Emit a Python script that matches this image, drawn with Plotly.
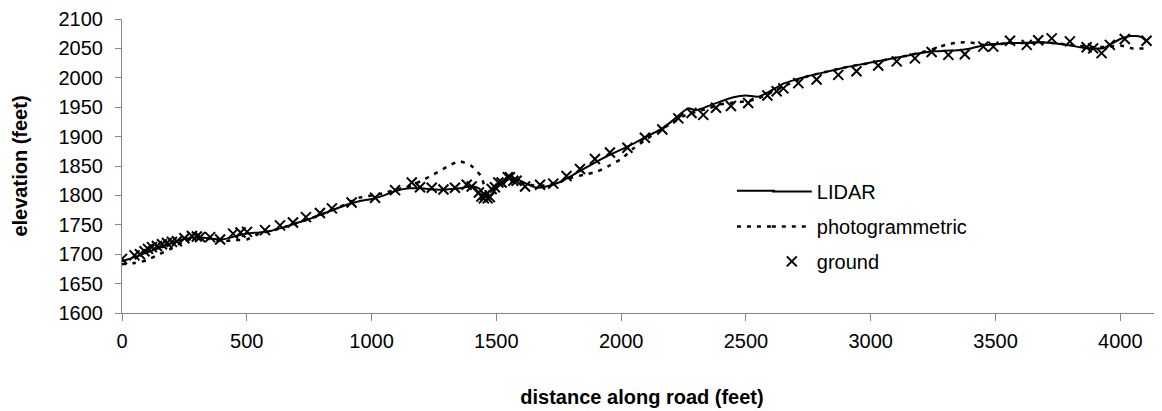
import plotly.graph_objects as go

# ---------------- data ----------------
lidar_x = [0, 50, 100, 150, 200, 250, 300, 350, 400, 450, 500, 550, 600, 650, 700, 750, 800, 850,
           900, 950, 1000, 1050, 1100, 1150, 1200, 1250, 1300, 1350, 1400, 1430, 1460, 1480, 1500,
           1550, 1580, 1620, 1660, 1700, 1750, 1800, 1850, 1900, 1950, 2000, 2050, 2100, 2150, 2200,
           2250, 2270, 2300, 2350, 2400, 2450, 2500, 2550, 2600, 2650, 2700, 2750, 2800, 2850, 2900,
           2950, 3000, 3050, 3100, 3150, 3200, 3250, 3300, 3350, 3400, 3450, 3500, 3550, 3600, 3650,
           3700, 3750, 3800, 3850, 3900, 3930, 3960, 4000, 4040, 4080, 4105]
lidar_y = [1688, 1695, 1703, 1711, 1719, 1726, 1729, 1727, 1725, 1730, 1735, 1737, 1740, 1746, 1753,
           1760, 1768, 1776, 1784, 1790, 1794, 1800, 1808, 1812, 1812, 1810, 1810, 1812, 1815, 1812,
           1798, 1802, 1812, 1828, 1828, 1820, 1813, 1815, 1822, 1833, 1845, 1857, 1868, 1878, 1888,
           1900, 1910, 1925, 1943, 1948, 1945, 1952, 1960, 1967, 1970, 1968, 1978, 1990, 1997, 2003,
           2008, 2013, 2018, 2022, 2026, 2030, 2034, 2038, 2042, 2045, 2046, 2047, 2050, 2055, 2057,
           2059, 2059, 2060, 2060, 2058, 2055, 2051, 2050, 2050, 2057, 2066, 2071, 2070, 2062]

photo_x = [0, 50, 100, 150, 200, 250, 300, 350, 400, 450, 500, 550, 600, 650, 700, 750, 800, 850,
           900, 950, 1000, 1050, 1100, 1150, 1200, 1250, 1300, 1350, 1400, 1440, 1460, 1480, 1500,
           1550, 1600, 1650, 1700, 1750, 1800, 1850, 1900, 1950, 2000, 2050, 2100, 2150, 2200, 2250,
           2300, 2350, 2400, 2450, 2500, 2550, 2600, 2650, 2700, 2750, 2800, 2850, 2900, 2950, 3000,
           3050, 3100, 3150, 3200, 3250, 3300, 3350, 3400, 3450, 3500, 3600, 3700, 3800, 3900, 3950,
           4000, 4050, 4100]
photo_y = [1683, 1685, 1690, 1700, 1710, 1722, 1728, 1726, 1722, 1724, 1725, 1735, 1740, 1746, 1753,
           1760, 1768, 1776, 1786, 1796, 1800, 1804, 1810, 1815, 1825, 1836, 1848, 1858, 1850, 1832,
           1805, 1808, 1815, 1824, 1822, 1817, 1817, 1822, 1830, 1835, 1840, 1850, 1862, 1880, 1895,
           1910, 1922, 1935, 1942, 1948, 1955, 1958, 1960, 1965, 1975, 1985, 1995, 2003, 2008, 2013,
           2018, 2022, 2025, 2030, 2034, 2038, 2043, 2049, 2056, 2060, 2060, 2056, 2057, 2059, 2060,
           2056, 2052, 2053, 2055, 2050, 2050]

ground_x = [0, 50, 72, 90, 104, 120, 140, 160, 180, 200, 220, 250, 280, 300, 313, 353, 393, 445, 475,
            501, 573, 633, 685, 737, 793, 841, 920, 1014, 1094, 1161, 1194, 1241, 1288, 1334, 1381,
            1401, 1430, 1440, 1450, 1455, 1465, 1474, 1481, 1494, 1508, 1521, 1546, 1554, 1568, 1581,
            1615, 1675, 1728, 1781, 1835, 1895, 1955, 2025, 2095, 2165, 2229, 2282, 2329, 2380, 2440,
            2509, 2586, 2623, 2650, 2710, 2783, 2870, 2943, 3030, 3104, 3177, 3244, 3311, 3377, 3451,
            3491, 3558, 3625, 3671, 3725, 3798, 3865, 3891, 3925, 3958, 4018, 4105]
ground_y = [1692, 1698, 1700, 1705, 1709, 1712, 1714, 1717, 1719, 1721, 1722, 1727, 1731, 1730, 1729,
            1729, 1725, 1735, 1737, 1738, 1741, 1749, 1754, 1763, 1770, 1778, 1788, 1796, 1809, 1822,
            1814, 1813, 1810, 1813, 1818, 1815, 1805, 1798, 1795, 1800, 1795, 1797, 1811, 1814, 1822,
            1822, 1831, 1831, 1825, 1825, 1815, 1818, 1820, 1833, 1845, 1862, 1873, 1881, 1898, 1912,
            1931, 1940, 1937, 1949, 1952, 1957, 1970, 1977, 1982, 1991, 1997, 2005, 2011, 2021, 2028,
            2033, 2044, 2039, 2040, 2053, 2053, 2063, 2056, 2064, 2067, 2062, 2052, 2050, 2042, 2056,
            2066, 2063]

x_ticks = [0, 500, 1000, 1500, 2000, 2500, 3000, 3500, 4000]
y_ticks = [1600, 1650, 1700, 1750, 1800, 1850, 1900, 1950, 2000, 2050, 2100]

FONT = "Liberation Sans, Arial, sans-serif"
AXIS_COLOR = "#868686"

fig = go.Figure()
fig.add_trace(go.Scatter(x=lidar_x, y=lidar_y, mode="lines", name="LIDAR",
                         line=dict(color="black", width=2, shape="spline", smoothing=0.6),
                         legendgroup="a"))
fig.add_trace(go.Scatter(x=photo_x, y=photo_y, mode="lines", name="photogrammetric",
                         line=dict(color="black", width=2.5, dash="4px,6px", shape="spline", smoothing=0.6),
                         legendgroup="b"))
fig.add_trace(go.Scatter(x=ground_x, y=ground_y, mode="markers", name="ground",
                         marker=dict(symbol="x-thin", size=10, color="black",
                                     line=dict(color="black", width=2)),
                         legendgroup="c"))

# lengthen the legend key lines (reference keys are longer than plotly's default)
fig.add_shape(type="line", xref="paper", yref="paper", x0=0.5913, x1=0.6280, y0=0.4155, y1=0.4155,
              line=dict(color="black", width=2))
fig.add_shape(type="line", xref="paper", yref="paper", x0=0.5913, x1=0.6280, y0=0.2939, y1=0.2939,
              line=dict(color="black", width=2.5, dash="4px,6px"))

# page body has an 8px margin: figure is sized/margined to compensate
fig.update_layout(
    width=1154, height=403,
    margin=dict(l=114, r=0, t=9, b=98),
    paper_bgcolor="white", plot_bgcolor="white",
    font=dict(family=FONT, size=20, color="black"),
    showlegend=True,
    legend=dict(x=0.62, y=0.48, xanchor="left", yanchor="top",
                font=dict(family=FONT, size=20, color="black"),
                bgcolor="rgba(0,0,0,0)", tracegroupgap=6, itemwidth=40),
)
fig.update_xaxes(range=[0, 4167], tickvals=x_ticks, ticktext=[str(v) for v in x_ticks],
                 showgrid=False, zeroline=False, showline=True, linecolor=AXIS_COLOR, linewidth=1,
                 ticks="outside", ticklen=7, tickcolor=AXIS_COLOR, tickwidth=1,
                 tickfont=dict(family=FONT, size=20, color="black"), ticklabelstandoff=3,
                 title=dict(text="<b>distance along road (feet)</b>", standoff=38,
                            font=dict(family=FONT, size=20, color="black")))
fig.update_yaxes(range=[1600, 2100], tickvals=y_ticks, ticktext=[str(v) for v in y_ticks],
                 showgrid=False, zeroline=False, showline=True, linecolor=AXIS_COLOR, linewidth=1,
                 ticks="outside", ticklen=6, tickcolor=AXIS_COLOR, tickwidth=1,
                 tickfont=dict(family=FONT, size=20, color="black"), ticklabelstandoff=8,
                 ticklabeloverflow="allow",
                 title=dict(text="<b>elevation (feet)</b>", standoff=25,
                            font=dict(family=FONT, size=20, color="black")))

fig.write_html("out.html")
